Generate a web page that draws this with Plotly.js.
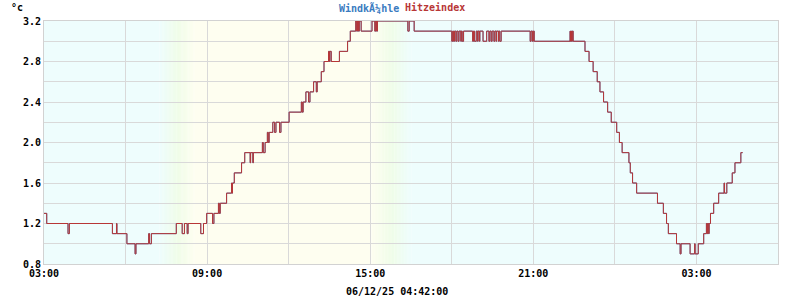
<!DOCTYPE html>
<html>
<head>
<meta charset="utf-8">
<script src="https://cdn.plot.ly/plotly-3.0.1.min.js"></script>
<style>html,body{margin:0;padding:0;background:#fff}#chart{width:800px;height:300px}</style>
</head>
<body>
<div id="chart"></div>
<script>
// ---- data ----
const times = [
"2025-12-05 03:00","2025-12-05 03:06","2025-12-05 03:53","2025-12-05 03:56","2025-12-05 05:31","2025-12-05 05:40","2025-12-05 05:41",
"2025-12-05 06:03","2025-12-05 06:21","2025-12-05 06:23","2025-12-05 06:51","2025-12-05 06:53","2025-12-05 06:57","2025-12-05 07:52",
"2025-12-05 08:05","2025-12-05 08:10","2025-12-05 08:16","2025-12-05 08:18","2025-12-05 08:46","2025-12-05 08:52","2025-12-05 08:59",
"2025-12-05 09:12","2025-12-05 09:15","2025-12-05 09:25","2025-12-05 09:27","2025-12-05 09:29","2025-12-05 09:43","2025-12-05 09:54",
"2025-12-05 09:55","2025-12-05 09:56","2025-12-05 10:00","2025-12-05 10:16","2025-12-05 10:23","2025-12-05 10:35","2025-12-05 10:36",
"2025-12-05 10:41","2025-12-05 10:42","2025-12-05 11:02","2025-12-05 11:04","2025-12-05 11:08","2025-12-05 11:13","2025-12-05 11:15",
"2025-12-05 11:17","2025-12-05 11:25","2025-12-05 11:29","2025-12-05 11:32","2025-12-05 11:40","2025-12-05 11:43","2025-12-05 12:01",
"2025-12-05 12:28","2025-12-05 12:30","2025-12-05 12:32","2025-12-05 12:38","2025-12-05 12:44","2025-12-05 12:47","2025-12-05 12:55",
"2025-12-05 13:01","2025-12-05 13:03","2025-12-05 13:12","2025-12-05 13:18","2025-12-05 13:28","2025-12-05 13:30","2025-12-05 13:31",
"2025-12-05 13:34","2025-12-05 13:52","2025-12-05 14:10","2025-12-05 14:16","2025-12-05 14:28","2025-12-05 14:30","2025-12-05 14:32",
"2025-12-05 14:34","2025-12-05 14:36","2025-12-05 14:40","2025-12-05 15:04","2025-12-05 15:10","2025-12-05 15:12","2025-12-05 15:14",
"2025-12-05 15:16","2025-12-05 16:23","2025-12-05 16:26","2025-12-05 16:37",
"2025-12-05 18:00","2025-12-05 18:02","2025-12-05 18:04","2025-12-05 18:06","2025-12-05 18:09","2025-12-05 18:11","2025-12-05 18:14",
"2025-12-05 18:16","2025-12-05 18:20","2025-12-05 18:21","2025-12-05 18:23","2025-12-05 18:26","2025-12-05 18:46","2025-12-05 18:48",
"2025-12-05 18:50","2025-12-05 18:54","2025-12-05 18:57","2025-12-05 18:58","2025-12-05 19:01","2025-12-05 19:02","2025-12-05 19:09",
"2025-12-05 19:17","2025-12-05 19:22","2025-12-05 19:24","2025-12-05 19:27","2025-12-05 19:29","2025-12-05 19:33","2025-12-05 19:35",
"2025-12-05 19:38","2025-12-05 19:39","2025-12-05 19:43","2025-12-05 19:44","2025-12-05 19:46","2025-12-05 19:49","2025-12-05 20:53",
"2025-12-05 20:55","2025-12-05 20:58","2025-12-05 21:00","2025-12-05 21:02","2025-12-05 22:21","2025-12-05 22:22","2025-12-05 22:24",
"2025-12-05 22:25","2025-12-05 22:26","2025-12-05 22:28","2025-12-05 22:54","2025-12-05 23:03","2025-12-05 23:12","2025-12-05 23:21",
"2025-12-05 23:27","2025-12-05 23:35","2025-12-05 23:44","2025-12-05 23:52",
"2025-12-06 00:04","2025-12-06 00:10","2025-12-06 00:16","2025-12-06 00:31","2025-12-06 00:34","2025-12-06 00:39","2025-12-06 00:48",
"2025-12-06 01:34","2025-12-06 01:47","2025-12-06 01:54","2025-12-06 01:58","2025-12-06 02:16","2025-12-06 02:24","2025-12-06 02:26",
"2025-12-06 02:46","2025-12-06 02:56","2025-12-06 02:57","2025-12-06 03:04","2025-12-06 03:16","2025-12-06 03:22","2025-12-06 03:24",
"2025-12-06 03:25","2025-12-06 03:27","2025-12-06 03:28","2025-12-06 03:31","2025-12-06 03:38","2025-12-06 03:49","2025-12-06 04:01",
"2025-12-06 04:02","2025-12-06 04:07","2025-12-06 04:19","2025-12-06 04:25","2025-12-06 04:38","2025-12-06 04:42"
];
const hitzeindex = [
1.3,1.2,1.1,1.2,1.1,1.2,1.1,
1.0,0.9,1.0,1.1,1.0,1.1,1.2,
1.1,1.2,1.1,1.2,1.1,1.2,1.3,
1.2,1.3,1.4,1.3,1.4,1.5,1.6,
1.5,1.6,1.7,1.8,1.9,1.8,1.9,
1.8,1.9,2.0,1.9,2.0,2.1,2.0,
2.1,2.2,2.1,2.2,2.1,2.2,2.3,
2.4,2.3,2.4,2.5,2.4,2.5,2.6,
2.5,2.6,2.7,2.8,2.9,2.8,2.9,
2.8,2.9,3.0,3.1,3.2,3.1,3.2,
3.1,3.2,3.1,3.2,3.1,3.2,3.1,
3.2,3.1,3.2,3.1,
3.0,3.1,3.0,3.1,3.0,3.1,3.0,
3.1,3.0,3.1,3.0,3.1,3.0,3.1,
3.0,3.1,3.0,3.1,3.0,3.1,3.0,
3.1,3.0,3.1,3.0,3.1,3.0,3.1,
3.0,3.1,3.0,3.1,3.0,3.1,3.0,
3.1,3.0,3.1,3.0,3.1,3.0,3.1,
3.0,3.1,3.0,2.9,2.8,2.7,2.6,
2.5,2.4,2.3,2.2,
2.1,2.0,1.9,1.8,1.7,1.6,1.5,
1.4,1.3,1.2,1.1,1.0,0.9,1.0,
0.9,1.0,0.9,1.0,1.1,1.2,1.1,
1.2,1.1,1.2,1.3,1.4,1.5,1.6,
1.5,1.6,1.7,1.8,1.9,1.9
];
// Windkühle equals the temperature here and lies beneath the Hitzeindex line
const windkuehle = hitzeindex.slice();

const legendNames = ["WindkÃ¼hle", "Hitzeindex"];
const seriesColors = ["#3a7bbf", "#b83636"];
const unitLabel = "°c";
const stampLabel = "06/12/25 04:42:00";
const xStart = "2025-12-05 03:00", xEnd = "2025-12-06 06:00";
// daylight background bands: [night->dawn start, dawn mid, day start, day end, dusk mid, night start]
const dayBand = ["2025-12-05 07:15","2025-12-05 07:55","2025-12-05 08:32","2025-12-05 15:03","2025-12-05 15:47","2025-12-05 16:31"];

// ---- background shapes (gradient) ----
function hex2rgb(h){return [1,3,5].map(i=>parseInt(h.substr(i,2),16));}
function mix(a,b,t){const A=hex2rgb(a),B=hex2rgb(b);return 'rgb('+A.map((v,i)=>Math.round(v+(B[i]-v)*t)).join(',')+')';}
const cNight="#eefdfd", cGreen="#effde8", cDay="#fefef0";
const ms = s => new Date(s.replace(' ','T')+':00Z').getTime();
const iso = t => new Date(t).toISOString().replace('T',' ').substr(0,19);
const shapes = [];
function rect(x0,x1,col){shapes.push({type:'rect',xref:'x',yref:'paper',x0:iso(x0),x1:iso(x1),y0:0,y1:1,fillcolor:col,line:{width:0},layer:'below'});}
rect(ms(xStart), ms(dayBand[0]), cNight);
function grad(a,b,ca,cb){const N=14;for(let i=0;i<N;i++){const t0=ms(a)+(ms(b)-ms(a))*i/N, t1=ms(a)+(ms(b)-ms(a))*(i+1)/N+30000;rect(t0,t1,mix(ca,cb,(i+0.5)/N));}}
grad(dayBand[0],dayBand[1],cNight,cGreen);
grad(dayBand[1],dayBand[2],cGreen,cDay);
rect(ms(dayBand[2]), ms(dayBand[3]), cDay);
grad(dayBand[3],dayBand[4],cDay,cGreen);
grad(dayBand[4],dayBand[5],cGreen,cNight);
rect(ms(dayBand[5]), ms(xEnd), cNight);

const font = {family:"DejaVu Sans Mono", size:10, color:"#000"};
const traces = [
  {x:times, y:windkuehle, name:legendNames[0], type:'scatter', mode:'lines', line:{shape:'hv', color:seriesColors[0], width:1}, hoverinfo:'skip'},
  {x:times, y:hitzeindex, name:legendNames[1], type:'scatter', mode:'lines', line:{shape:'hv', color:seriesColors[1], width:1}, hoverinfo:'skip'}
];
const layout = {
  width:800, height:300,
  margin:{l:44, r:22, t:21, b:36},
  paper_bgcolor:'#fff', plot_bgcolor:'#fff',
  showlegend:false,
  font:font,
  shapes:shapes,
  xaxis:{type:'date', range:[xStart,xEnd], tick0:xStart, dtick:6*3600000, tickformat:'%H:%M',
         showgrid:true, gridcolor:'#d9d9d9', gridwidth:1,
         minor:{dtick:3*3600000, tick0:xStart, showgrid:true, gridcolor:'#d9d9d9', gridwidth:1},
         showline:true, linecolor:'#d2d2d2', linewidth:1, mirror:true, ticks:'', ticklen:0,
         tickfont:{family:"DejaVu Sans Mono", size:10, color:'#000', weight:'bold'}, zeroline:false, fixedrange:true},
  yaxis:{range:[0.8,3.2], tick0:0.8, dtick:0.4, tickformat:'.1f',
         showgrid:true, gridcolor:'#d9d9d9', gridwidth:1,
         minor:{dtick:0.2, tick0:0.8, showgrid:true, gridcolor:'#d9d9d9', gridwidth:1},
         showline:true, linecolor:'#d2d2d2', linewidth:1, mirror:true, ticks:'', ticklen:0,
         tickfont:{family:"DejaVu Sans Mono", size:10, color:'#000', weight:'bold'}, zeroline:false, fixedrange:true},
  annotations:[
    {text:unitLabel, xref:'paper', yref:'paper', x:-0.048, y:1.055, xanchor:'left', yanchor:'middle', showarrow:false,
     font:{family:"DejaVu Sans Mono", size:10, color:'#000', weight:'bold'}},
    {text:legendNames[0], xref:'paper', yref:'paper', x:0.399, y:1.055, xanchor:'left', yanchor:'middle', showarrow:false,
     font:{family:"DejaVu Sans Mono", size:10, color:seriesColors[0], weight:'bold'}},
    {text:legendNames[1], xref:'paper', yref:'paper', x:0.489, y:1.055, xanchor:'left', yanchor:'middle', showarrow:false,
     font:{family:"DejaVu Sans Mono", size:10, color:seriesColors[1], weight:'bold'}},
    {text:stampLabel, xref:'paper', yref:'paper', x:0.481, y:-0.115, xanchor:'center', yanchor:'middle', showarrow:false,
     font:{family:"DejaVu Sans Mono", size:10, color:'#000', weight:'bold'}}
  ]
};
Plotly.newPlot('chart', traces, layout, {staticPlot:true, displayModeBar:false});
</script>
</body>
</html>
